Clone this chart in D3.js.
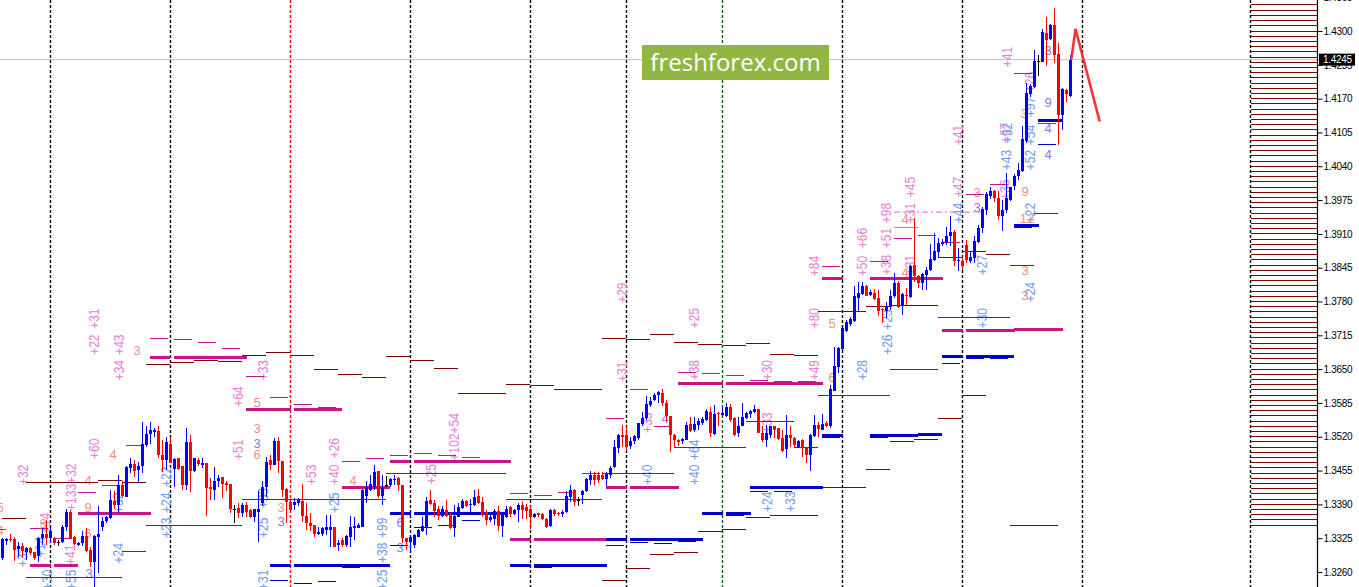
<!DOCTYPE html>
<html><head><meta charset="utf-8">
<script src="https://cdnjs.cloudflare.com/ajax/libs/d3/7.8.5/d3.min.js"></script>
<style>html,body{margin:0;padding:0;background:#fff;overflow:hidden}svg{display:block}</style>
</head><body><svg id="c" width="1359" height="587"></svg>
<script>
// All prices are pips above 1.3000
const opens=[286,320,324,324,305,310,299,306,298,290,
325,334,325,325,317,317,346,376,328,312,
315,329,302,280,327,347,358,363,397,389,
427,405,459,468,456,463,504,526,530,531,
485,475,507,458,479,463,427,510,454,475,
466,470,423,418,435,443,432,429,381,383,
374,389,379,365,376,392,423,475,466,511,
473,419,395,388,393,397,368,355,350,333,
334,341,341,347,312,322,312,328,344,345,
347,406,418,424,454,406,427,427,436,440,
427,325,318,312,328,338,347,399,393,382,
368,379,370,344,366,383,397,389,389,406,
394,376,360,361,377,349,366,384,372,379,
389,384,381,365,373,372,362,349,379,374,
371,375,405,418,399,408,415,436,447,447,
447,439,447,461,498,524,524,502,512,517,
545,556,581,591,600,604,584,560,524,514,
511,514,544,533,543,547,552,568,526,566,
562,560,577,556,527,541,557,564,568,573,
527,514,524,540,536,517,496,524,517,501,
513,500,484,522,543,533,546,540,608,655,
688,723,737,743,786,795,810,793,796,786,
765,761,769,791,815,773,793,789,850,829,
816,831,841,860,876,891,892,905,914,857,
858,889,858,864,895,922,956,983,993,979,
945,955,976,1002,1022,1030,1088,1179,1192,1243,
1241,1296,1284,1311,1256,1139,1187,1176];
const highs=[325,325,334,328,318,315,309,308,299,328,
344,360,344,328,322,350,381,379,329,318,
338,344,309,331,387,366,368,418,415,447,
434,463,479,475,472,549,540,549,536,541,
514,520,520,479,479,463,536,524,479,479,
479,470,440,461,447,443,435,429,389,392,
393,395,382,382,415,435,482,485,518,520,
473,421,399,402,402,429,392,373,350,347,
346,370,370,347,322,325,331,368,366,354,
419,434,447,466,454,447,445,440,447,443,
427,325,331,334,342,366,404,418,399,386,
386,398,373,389,392,400,398,400,418,420,
405,379,370,382,386,376,386,386,382,392,
397,391,386,374,374,373,363,382,381,376,
379,415,427,419,404,418,440,454,453,453,
453,453,463,513,525,543,541,520,524,547,
568,598,597,604,607,612,591,560,526,515,
517,549,558,558,556,558,573,577,581,568,
575,584,583,558,558,584,568,572,581,573,
540,543,541,541,536,533,562,540,520,514,
515,501,525,562,549,564,550,620,692,693,
730,745,751,809,818,818,812,802,804,802,
767,780,802,834,820,796,806,850,940,831,
834,846,890,911,902,900,924,945,918,882,
866,899,876,905,927,961,990,1001,995,992,
976,1027,1001,1025,1047,1117,1200,1198,1263,1254,
1304,1327,1314,1345,1277,1190,1188,1254];
const lows=[283,312,317,282,288,286,283,292,284,280,
312,312,315,312,310,315,338,323,312,310,
310,299,270,232,258,339,355,361,382,373,
404,404,450,443,431,451,501,507,520,479,
453,456,469,424,456,418,418,413,453,463,
459,368,398,398,424,402,416,374,355,363,
366,366,363,357,318,386,405,456,466,450,
405,354,376,379,386,357,341,338,327,331,
329,331,309,308,301,309,309,309,322,344,
346,393,415,418,402,389,424,424,427,415,
315,302,299,306,327,336,331,389,366,360,
366,366,343,328,366,381,384,374,387,391,
366,350,357,350,338,328,363,366,370,357,
361,361,343,363,366,360,345,347,368,368,
365,373,395,387,387,391,413,427,427,431,
437,425,440,459,488,501,493,497,507,514,
540,552,578,588,584,580,549,491,501,502,
507,513,530,530,533,543,551,520,524,541,
559,558,549,522,520,540,554,556,566,527,
509,501,517,517,514,490,479,501,500,498,
482,470,454,520,520,533,538,536,607,643,
687,722,732,741,761,793,790,790,783,752,
738,748,764,786,767,754,773,786,818,806,
802,802,838,857,866,886,889,886,849,838,
841,854,854,854,892,911,947,977,972,937,
915,950,974,995,1013,1029,1084,1174,1190,1213,
1240,1232,1283,1238,1081,1109,1163,1173];
const closes=[323,323,322,302,310,301,306,296,286,325,
334,325,339,316,317,347,376,325,314,315,
329,301,280,329,334,358,365,398,389,427,
406,461,468,455,463,507,526,533,533,484,
475,509,470,477,458,427,509,454,479,468,
470,421,419,435,440,429,427,381,381,373,
389,376,366,381,382,424,472,466,512,474,
418,395,379,395,398,368,354,349,333,336,
344,346,346,309,315,311,329,346,348,350,
418,423,429,453,406,422,427,439,438,427,
325,318,328,331,341,348,397,391,378,368,
381,368,344,368,384,397,387,391,404,392,
370,360,365,377,349,373,381,372,379,389,
379,378,366,372,369,362,347,379,372,371,
376,406,418,395,399,416,438,447,436,436,
439,448,459,501,524,520,501,512,522,547,
556,582,589,600,606,584,560,524,513,509,
515,543,532,545,550,554,570,528,564,563,
565,577,552,524,541,558,566,570,574,528,
514,527,540,533,516,493,524,517,504,512,
498,485,524,543,535,544,541,611,656,690,
729,741,747,791,796,810,791,798,785,762,
763,772,791,815,770,794,791,848,829,815,
833,841,862,877,892,895,906,914,857,860,
849,860,866,897,921,957,986,993,979,945,
955,979,1000,1022,1033,1092,1181,1195,1243,1243,
1298,1283,1312,1253,1138,1189,1179,1245];

// level segments: [from bar, to bar, pips]
const darkRedLevels=[[0,6,363],[6,24,432],[24,30,436],[30,36,432],[36,42,658],[42,48,663],[48,54,667],[54,60,665],[60,66,677],[66,72,681],[72,78,677],[78,84,650],[84,90,640],[90,96,634],[96,102,675],[102,108,667],[108,114,652],[114,126,604],[126,132,621],[132,138,619],[138,150,611],[150,156,709],[156,162,707],[162,168,717],[168,174,702],[174,180,698],[180,186,696],[186,192,700],[192,198,679],[198,204,677],[204,216,760],[216,222,770],[222,234,772],[234,240,865],[240,246,877],[246,252,871],
[150,156,244],[156,162,267],[162,168,294],[168,174,298],[174,180,338],[180,186,342],[186,192,365],[192,204,369],[204,216,422],[216,222,458],[222,228,511],[228,234,515],[234,240,556],[240,246,600],[252,264,350]];
const greenLevels=[[6,30,250],[30,36,300],[36,60,350],[60,96,400],[96,126,450],[126,150,400],[150,168,450],[168,186,500],[186,198,550],[198,204,500],[204,222,600],[222,234,650],[234,252,750],[252,258,850],[258,264,950]];
const magentaThick=[[7,12.25,272],[13,19,272],[19,37.25,372],[37,42,672],[43,61.25,672],[61,72.25,572],[73,85,572],[85,97,422],[97,102,472],[103,127.25,472],[121,125.5,473],[127,132.25,322],[133,151.25,322],[151,156.25,422],[157,169.25,422],[169,180.25,622],[181,205.25,622],[193,197.5,624],[199,203.5,624],[205,210.25,824],[217,235.25,825],[235,240.3,725],[241,253.25,725],[253,265.25,727]];
const magentaThin=[[-0.5,1,341],[7,11.5,344],[13,17.5,325],[19,23.5,413],[25,29.5,427],[31,35.5,504],[37,41.5,709],[43,47.5,707],[49,53.5,702],[55,59.5,690],[61,65.5,636],[67,71.5,596],[73,77.5,582],[79,83.5,577],[85,89.5,473],[91,95.5,479],[97,101.5,484],[103,107.5,488],[109,113.5,484],[115,119.5,480],[127,131.5,411],[133,137.5,407],[139,143.5,413],[145,149.5,450],[151,155.5,556],[157,161.5,611],[163,167.5,540],[169,173.5,644],[175,179.5,642],[181,185.5,638],[187,191.5,629],[205,209.5,848],[217,221.5,856],[223,227.5,902],[229,233.5,906],[235,239.5,894],[241,245.5,986],[247,251.5,1004],[253,257.5,1219],[259,263.5,1122]];
const orchidLevels=[[223,229,923]];
const orchidDashed=[[223,245.5,952]];
const blueThick=[[67,72.25,272],[73,97,272],[85,89.5,271],[97,102.25,372],[103,126,372],[127,132.25,272],[133,151.25,272],[133,137.5,271],[151,156.25,322],[157,175.25,322],[169,173.5,321],[175,180.25,372],[181,187.25,372],[181,185.5,371],[187,205.25,422],[205,210.25,523],[217,229,523],[229,235,525],[217,221.5,521],[235,240.3,675],[241,253,675],[247,251.5,673],[253,259.25,927],[253,257.5,925],[259,265,1128]];
const blueThin=[[67,71.5,244],[73,77.5,238],[79,83.5,242],[97,101.5,311],[103,107.5,346],[109,113.5,350],[115,119.5,359],[151,155.5,311],[157,161.5,317],[163,167.5,315],[187,191.5,415],[193,197.5,415],[205,209.5,519],[235,239.5,661],[241,245.5,671],[259,263.5,1081]];

const pinkLabels=[["+32",5.25,447],["+133+32",17.25,423],["+31",23,747],["+22",23,697],["+34",29.25,648],["+43",29.25,697],["+60",23,497],["+41",17,293],["+14",10.75,354],["+64",59,597],["+33",65.25,648],["+51",59,495],["+53",77.25,447],["+40",83,447],["+26",83,498],["+25",107.25,448],["+102+54",113,520],["+29",155,797],["+31",155,645],["+25",173,748],["+38",173,648],["+30",191.25,648],["+49",203,648],["+80",203,748],["+35",161.25,547],["+33",191.25,547],["+84",203,848],["+50",215,848],["+66",215,902],["+38",221,850],["+51",221,902],["+98",221,950],["+31",227,950],["+45",227,1000],["+31",227,850],["+47",239,1000],["+41",251.25,1250],["+41",239,1100],["+67",250.75,1104],["+36",250.75,995],["+26",257,1202]];
const blueLabels=[["+32",5,289],["+30",11.25,245],["+14",9.5,308],["+55",17.25,245],["+24",29,296],["+32",29,393],["+22",41,443],["+24",41,393],["+23",41,345],["+25",65.25,345],["+33",65.25,402],["+31",65.25,245],["+25",83,393],["+99",95,345],["+38",95,297],["+25",95,245],["+40",161.25,447],["+64",173,495],["+40",173,447],["+24",191.25,395],["+33",197,395],["+23",221.25,745],["+26",221.25,697],["+28",215,648],["+30",245,748],["+27",245,850],["+44",239,950],["+43",251,1052],["+32",251.25,1104],["+52",257,1052],["+54",257,1100],["+97",257,1154],["+22",257,950],["+24",257,798]];
const salmonDigits=[["3",33.75,687],["4",27.75,487],["4",21.5,437],["9",21.5,385],["6",21.5,335],["5",-0.5,385],["4",-0.5,340],["3",10.25,354],["5",63.75,587],["3",63.75,537],["6",63.75,487],["3",69.75,385],["4",87.75,437],["5",207.5,739],["6",207.5,635],["4",225.75,939],["3",243.75,991],["9",255.75,993],["3",255.75,841],["3",255.75,793],["12",256.25,941],["3",255.5,1143],["4",225.75,837]];
const violetDigits=[["3",63.75,508],["3",69.75,358],["3",21.75,258],["6",99.5,356],["3",99.5,308],["3",243.75,962],["9",261.5,1164],["4",261.5,1114],["4",261.5,1064],["3",261.5,1264],["4",165.75,556]];

const stripes=[350,360,370,380,390,400,410,420,430,440,450,460,470,480,490,500,510,520,530,540,550,560,570,580,590,600,610,620,630,640,650,660,670,680,690,700,710,720,730,740,750,760,770,780,790,800,810,820,830,840,850,860,870,880,890,900,910,920,930,940,950,960,970,980,990,1000,1010,1020,1030,1040,1050,1060,1070,1080,1090,1100,1110,1120,1130,1140,1150,1160,1170,1180,1190,1200,1210,1220,1230,1240,1250,1260,1270,1280,1290,1300,1310,1320,1330,1340,1350,1360];
const periodBars=[12,42,72,102,132,156,180,210,240,270,312];
const periodColors=["#000","#000","#f00","#000","#000","#000","#006400","#000","#000","#000","#000"];
const forecastBars=[267.2,268.25,274.3];
const forecastPips=[1245,1304,1126];
const priceTicks=[1.3260,1.3325,1.3390,1.3455,1.3520,1.3585,1.3650,1.3715,1.3780,1.3845,1.3910,1.3975,1.4040,1.4105,1.4170,1.4235,1.4300,1.4365];
const lastPrice=1.4245;
const brand="freshforex.com";

const fromPips=p=>1.3+p/1e4;
const x=d3.scaleLinear().domain([0,267]).range([2.5,1070.5]);
const xE=b=>x(b)-0.5;
const y=d3.scaleLinear().domain([1.326,1.43]).range([572,31]);
const yP=p=>y(fromPips(p));
const svg=d3.select("#c");
const labelFont="'Liberation Sans',Arial,sans-serif";

// period separators
svg.append("g").selectAll("line").data(periodBars).join("line")
 .attr("x1",d=>x(d)).attr("x2",d=>x(d)).attr("y1",0).attr("y2",587)
 .attr("stroke",(d,i)=>periodColors[i]).attr("stroke-width",1.4).attr("stroke-dasharray","3,2");

// stripes
svg.append("g").attr("shape-rendering","crispEdges").selectAll("line").data(stripes).join("line")
 .attr("x1",x(312)).attr("x2",1317).attr("y1",d=>yP(d)).attr("y2",d=>yP(d))
 .attr("stroke","#800000").attr("stroke-width",1);

// last price line
svg.append("line").attr("x1",0).attr("x2",1319).attr("y1",y(lastPrice)).attr("y2",y(lastPrice)).attr("stroke","#c0c0c0").attr("stroke-width",1);

// rotated labels
function vLabels(data,color){
 svg.append("g").selectAll("text").data(data).join("text")
  .attr("transform",d=>`translate(${xE(d[1])+5},${yP(d[2])}) rotate(-90) scale(1,1.2)`)
  .attr("text-anchor","middle").attr("fill",color)
  .style("font",`12px ${labelFont}`).text(d=>d[0]);
}
vLabels(pinkLabels,"#ea80d8");
vLabels(blueLabels,"#6f9df0");
function hLabels(data,color){
 svg.append("g").selectAll("text").data(data).join("text")
  .attr("x",d=>xE(d[1])).attr("y",d=>yP(d[2])+5)
  .attr("text-anchor","middle").attr("fill",color)
  .style("font",`13px ${labelFont}`).text(d=>d[0]);
}
hLabels(salmonDigits,"#f29080");
hLabels(violetDigits,"#8a78ee");

// levels
function levels(data,color,w,dash){
 const sel=svg.append("g").attr("shape-rendering",dash?"auto":"crispEdges").selectAll("line").data(data).join("line")
  .attr("x1",d=>xE(d[0])).attr("x2",d=>xE(d[1])).attr("y1",d=>yP(d[2])).attr("y2",d=>yP(d[2]))
  .attr("stroke",color).attr("stroke-width",w);
 if(dash)sel.attr("stroke-dasharray",dash);
}
levels(darkRedLevels,"#800000",1);
levels(greenLevels,"#006400",1);
levels(magentaThick,"#c71585",3);
levels(magentaThin,"#c71585",1);
levels(orchidLevels,"#da70d6",1);
levels(orchidDashed,"#ee82ee",1.2,"6,3,2,3");
levels(blueThick,"#0000cd",3);
levels(blueThin,"#0000cd",1);

// candles
const col=i=>closes[i]>opens[i]?"#00f":closes[i]<opens[i]?"#f00":"#000";
const idx=d3.range(opens.length);
const gc=svg.append("g").attr("shape-rendering","crispEdges");
gc.selectAll("line").data(idx).join("line")
 .attr("x1",x).attr("x2",x).attr("y1",i=>yP(highs[i])).attr("y2",i=>yP(lows[i]))
 .attr("stroke",col).attr("stroke-width",1);
gc.selectAll("rect").data(idx).join("rect")
 .attr("x",i=>x(i)-1.5).attr("width",3)
 .attr("y",i=>Math.min(yP(opens[i]),yP(closes[i])))
 .attr("height",i=>Math.max(1,Math.abs(yP(opens[i])-yP(closes[i]))))
 .attr("fill",col);

// forecast
svg.append("path")
 .attr("d",d3.line().x(d=>x(d[0])).y(d=>yP(d[1]))(forecastBars.map((b,i)=>[b,forecastPips[i]])))
 .attr("fill","none").attr("stroke","#f03535").attr("stroke-width",2.6);

// logo
svg.append("rect").attr("x",642).attr("y",45).attr("width",187).attr("height",35).attr("fill","#92b644");
svg.append("text").attr("x",735.5).attr("y",71).attr("text-anchor","middle").attr("fill","#fff")
 .style("font","24px 'Open Sans',sans-serif").text(brand);

// axis
const ax=svg.append("g").attr("transform","translate(1317.5,0)")
 .call(d3.axisRight(y).tickValues(priceTicks).tickFormat(d3.format(".4f")).tickSize(5).tickPadding(1));
ax.select(".domain").remove();
ax.selectAll("line").attr("stroke","#000");
ax.selectAll("text").attr("fill","#000").style("font",`10px ${labelFont}`).style("letter-spacing","-0.3px");
svg.append("line").attr("x1",1317.5).attr("x2",1317.5).attr("y1",0).attr("y2",587).attr("stroke","#000").attr("stroke-width",1.2);

// current price tag
svg.append("rect").attr("x",1319).attr("y",y(lastPrice)-6).attr("width",36).attr("height",12).attr("fill","#000");
svg.append("text").attr("x",1323).attr("y",y(lastPrice)+3.5).attr("fill","#fff").style("font",`10px ${labelFont}`).style("letter-spacing","-0.3px").text(d3.format(".4f")(lastPrice));
</script></body></html>
